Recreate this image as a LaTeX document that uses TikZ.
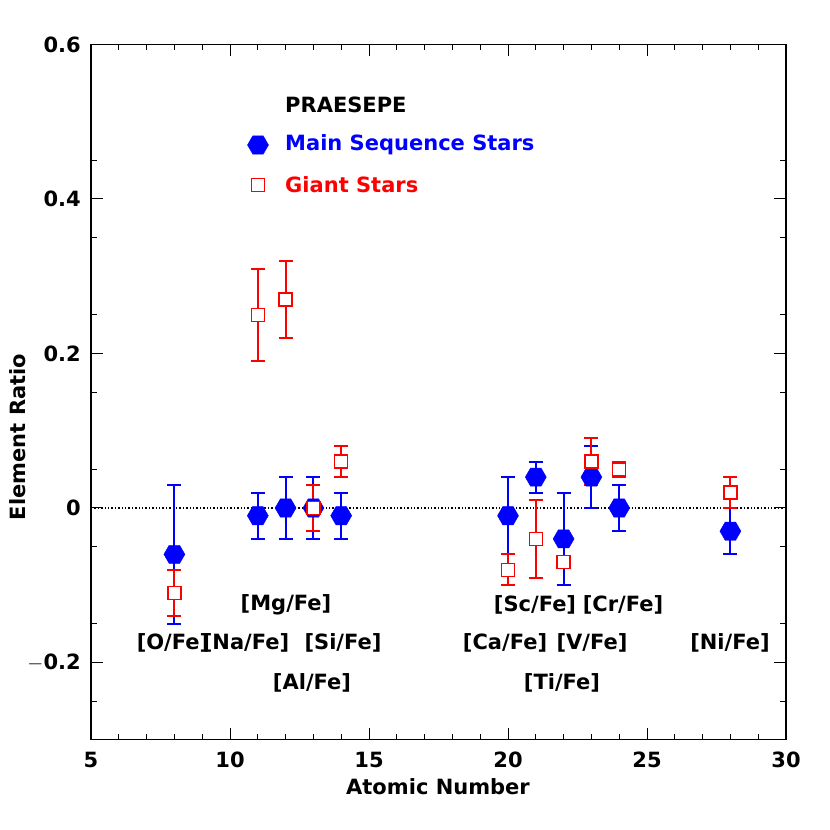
\documentclass[tikz,border=0pt]{standalone}
\usepackage{fontspec}
\setmainfont{DejaVu Sans}
\usetikzlibrary{shapes.geometric}
\tikzset{
  txt/.style={font=\bfseries\fontsize{21}{24}\selectfont, inner sep=0pt},
  hexa/.style={regular polygon, regular polygon sides=6, fill=blue, draw=blue, minimum size=21pt, inner sep=0pt},
  sq/.style={rectangle, draw=red, line width=1.4pt, minimum size=13pt, inner sep=0pt, fill=white},
  ebb/.style={draw=blue, line width=2pt},
  ebr/.style={draw=red, line width=2pt},
}
\begin{document}
\begin{tikzpicture}[x=1pt,y=1pt]
\useasboundingbox (0,0) rectangle (830,830);
\begin{scope}[shift={(-48pt,322pt)}, x=27.8pt, y=772.5pt]
  \draw[line width=1.2pt] (5,-0.3) rectangle (30,0.6);
  \draw[dotted, line width=1.4pt] (5,0) -- (30,0);
  \foreach \i in {6,...,29} {\draw[line width=1pt] (\i,-0.3) -- ++(0,6pt); \draw[line width=1pt] (\i,0.6) -- ++(0,-6pt);}
  \foreach \i in {10,15,...,25} {\draw[line width=1pt] (\i,-0.3) -- ++(0,12pt); \draw[line width=1pt] (\i,0.6) -- ++(0,-12pt);}
  \foreach \v in {-0.25,-0.15,...,0.55} {\draw[line width=1pt] (5,\v) -- ++(6pt,0); \draw[line width=1pt] (30,\v) -- ++(-6pt,0);}
  \foreach \v in {-0.2,0,0.2,0.4} {\draw[line width=1pt] (5,\v) -- ++(12pt,0); \draw[line width=1pt] (30,\v) -- ++(-12pt,0);}
  \foreach \i in {5,10,...,30} \node[txt] (xl\i) at (\i,-0.3) [yshift=-20pt] {\i};
  \node[txt, anchor=east] (yl1) at (5,0.6) [xshift=-10pt] {0.6};
  \node[txt, anchor=east] (yl2) at (5,0.4) [xshift=-10pt] {0.4};
  \node[txt, anchor=east] (yl3) at (5,0.2) [xshift=-10pt] {0.2};
  \node[txt, anchor=east] (yl4) at (5,0) [xshift=-10pt] {0};
  \node[txt, anchor=east] (yl5) at (5,-0.2) [xshift=-10pt] {$-$0.2};
  \foreach \z/\lo/\hi in {8/-0.15/0.03, 11/-0.04/0.02, 12/-0.04/0.04, 13/-0.04/0.04, 14/-0.04/0.02, 20/-0.06/0.04, 21/0.02/0.06, 22/-0.10/0.02, 23/0.0/0.08, 24/-0.03/0.03, 28/-0.06/0.0}
    {\draw[ebb] (\z,\lo) -- (\z,\hi); \draw[ebb] (\z,\lo) ++(-7pt,0) -- ++(14pt,0); \draw[ebb] (\z,\hi) ++(-7pt,0) -- ++(14pt,0);}
  \foreach \z/\lo/\hi in {8/-0.14/-0.08, 11/0.19/0.31, 12/0.22/0.32, 13/-0.03/0.03, 14/0.04/0.08, 20/-0.10/-0.06, 21/-0.09/0.01, 22/-0.07/-0.07, 23/0.03/0.09, 24/0.04/0.06, 28/0.0/0.04}
    {\draw[ebr] (\z,\lo) -- (\z,\hi); \draw[ebr] (\z,\lo) ++(-7pt,0) -- ++(14pt,0); \draw[ebr] (\z,\hi) ++(-7pt,0) -- ++(14pt,0);}
  \foreach \z/\v in {8/-0.06, 11/-0.01, 12/0, 13/0, 14/-0.01, 20/-0.01, 21/0.04, 22/-0.04, 23/0.04, 24/0, 28/-0.03}
    \node[hexa] (b\z) at (\z,\v) {};
  \foreach \z/\v in {8/-0.11, 11/0.25, 12/0.27, 13/0, 14/0.06, 20/-0.08, 21/-0.04, 22/-0.07, 23/0.06, 24/0.05, 28/0.02}
    \node[sq] (r\z) at (\z,\v) {};
\end{scope}
\node[txt] (mg) at (286,225) {[Mg/Fe]};
\node[txt] (o) at (173,187) {[O/Fe]};
\node[txt] (na) at (246,187) {[Na/Fe]};
\node[txt] (si) at (343,187) {[Si/Fe]};
\node[txt] (al) at (312,147) {[Al/Fe]};
\node[txt] (sc) at (535,225) {[Sc/Fe]};
\node[txt] (cr) at (623,225) {[Cr/Fe]};
\node[txt] (ca) at (505,187) {[Ca/Fe]};
\node[txt] (v) at (592,187) {[V/Fe]};
\node[txt] (ti) at (562,147) {[Ti/Fe]};
\node[txt] (ni) at (730,187) {[Ni/Fe]};
\node[txt, anchor=west] (title) at (285,725) {PRAESEPE};
\node[hexa] (lh) at (258,685) {};
\node[txt, anchor=west, text=blue] (lms) at (285,685) {Main Sequence Stars};
\node[sq] (ls) at (258,645) {};
\node[txt, anchor=west, text=red] (lg) at (285,645) {Giant Stars};
\node[txt] (xlab) at (438,43) {Atomic Number};
\node[txt, rotate=90] (ylab) at (18,393) {Element Ratio};
\end{tikzpicture}
\end{document}
